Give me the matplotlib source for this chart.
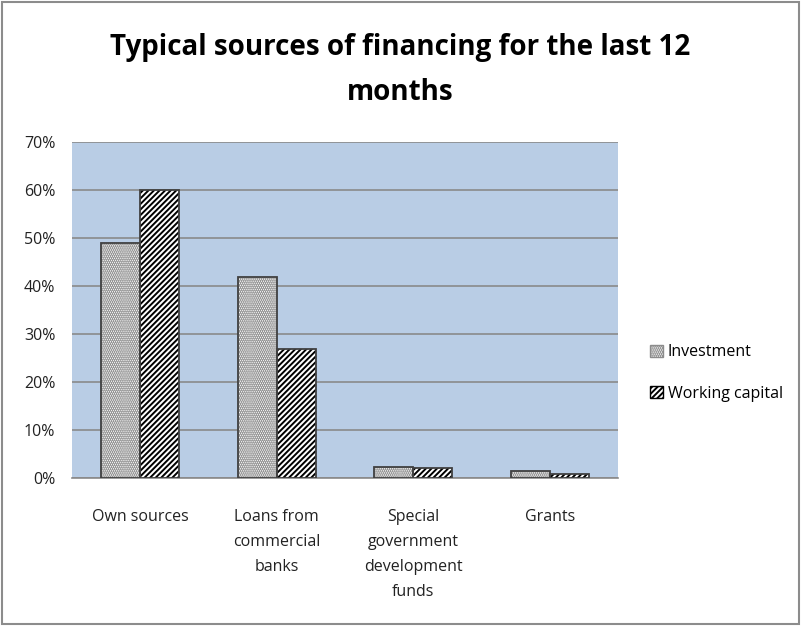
import matplotlib
matplotlib.use("Agg")
import matplotlib.pyplot as plt
import numpy as np
from matplotlib.patches import Rectangle, Patch

categories = ["Own sources", "Loans from\ncommercial\nbanks", "Special\ngovernment\ndevelopment\nfunds", "Grants"]
investment = [49.0, 41.8, 2.3, 1.5]
working_capital = [60.1, 26.8, 2.0, 0.8]
series_names = ["Investment", "Working capital"]
yticks = [0, 10, 20, 30, 40, 50, 60, 70]

plt.rcParams['font.family'] = ['Open Sans', 'DejaVu Sans']
plt.rcParams['hatch.linewidth'] = 1.4

fig = plt.figure(figsize=(8.01, 6.26), dpi=100)
fig.patches.append(Rectangle((0.003, 0.003), 0.994, 0.994, transform=fig.transFigure,
                             fill=False, edgecolor='#8c8c8c', linewidth=1.5))
ax = fig.add_axes([72/801, 1-478/626, (618-72)/801, (478-142)/626])
ax.set_facecolor('#b9cde5')

x = np.arange(len(categories))
w = 0.286
inv_pos = x - w/2
wc_pos = x + w/2

inv_hatch = '........'
wc_hatch = '//////'
ax.bar(inv_pos, investment, w, color='white', edgecolor='#8c8c8c', hatch=inv_hatch, linewidth=0, zorder=3)
ax.bar(wc_pos, working_capital, w, color='white', edgecolor='black', hatch=wc_hatch, linewidth=0, zorder=3)
ax.bar(inv_pos, investment, w, fill=False, edgecolor='#404040', linewidth=1.3, zorder=4)
ax.bar(wc_pos, working_capital, w, fill=False, edgecolor='#404040', linewidth=1.3, zorder=4)

ax.set_xlim(-0.5, len(categories)-0.5)
ax.set_ylim(0, 70)
ax.set_yticks(yticks)
ax.set_yticklabels([f"{v}%" for v in yticks], fontsize=11.5, color='#222222')
ax.set_xticks(x)
ax.set_xticklabels(categories, fontsize=11.5, color='#222222', linespacing=1.75, va='top')
ax.tick_params(axis='y', length=0, pad=12)
ax.tick_params(axis='x', length=0, pad=22)
ax.yaxis.grid(True, color='#8a8a8a', linewidth=1.2, zorder=1)
ax.set_axisbelow(True)
for s in ['top', 'right', 'left']:
    ax.spines[s].set_visible(False)
ax.spines['bottom'].set_color('#8a8a8a')
ax.spines['bottom'].set_linewidth(1.2)

fig.text(0.5, 1-47/626, "Typical sources of financing for the last 12", ha='center', va='center',
         fontsize=20, fontweight='bold')
fig.text(0.5, 1-92/626, "months", ha='center', va='center', fontsize=20, fontweight='bold')

h1 = Patch(facecolor='white', edgecolor='#8c8c8c', hatch=inv_hatch)
h2 = Patch(facecolor='white', edgecolor='black', hatch=wc_hatch)
leg = fig.legend([h1, h2], series_names, loc='center left', bbox_to_anchor=(636/801, 1-373/626),
                 frameon=False, fontsize=11.5, handlelength=0.8, handleheight=0.8,
                 handletextpad=0.3, labelspacing=1.6)

fig.savefig("out.png", dpi=100)
